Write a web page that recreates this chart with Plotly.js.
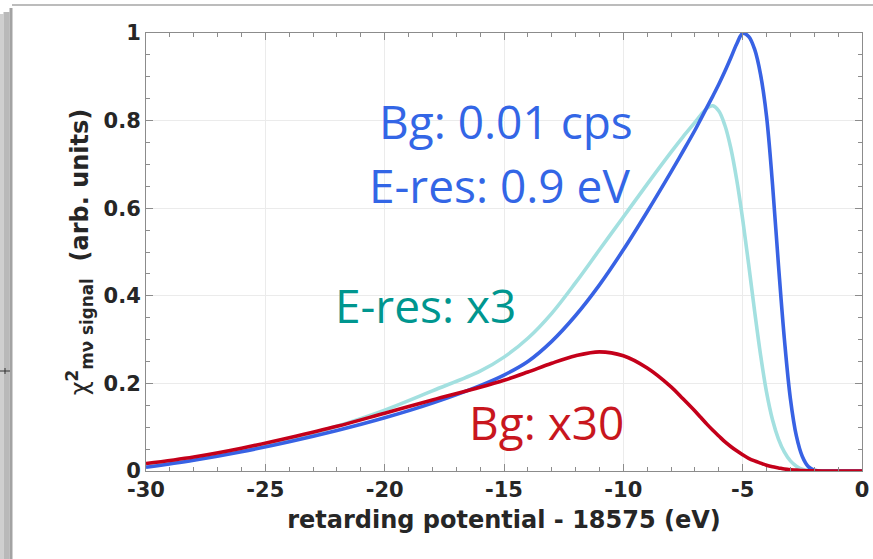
<!DOCTYPE html>
<html>
<head>
<meta charset="utf-8">
<script src="https://cdn.plot.ly/plotly-3.0.1.min.js"></script>
<style>html,body{margin:0;padding:0;background:#fff;}#chart{width:873px;height:559px;}</style>
</head>
<body>
<div id="chart"></div>
<script>
// retarding potential - 18575 (eV)
const energy = [-30, -28, -26, -24, -22, -20, -18, -16, -15, -14, -13, -12, -11, -10, -9, -8, -7.5, -7, -6.75, -6.5, -6.25, -6, -5.75, -5.5, -5.25, -5, -4.75, -4.5, -4.25, -4, -3.75, -3.5, -3.25, -3, -2.75, -2.5, -2.25, -2, -1.5, -1, 0];

// Bg: 0.01 cps, E-res: 0.9 eV
const signalBase = [0.0085, 0.0245, 0.044, 0.0668, 0.0925, 0.1215, 0.155, 0.195, 0.219, 0.25, 0.296, 0.355, 0.425, 0.505, 0.592, 0.683, 0.73, 0.778, 0.804, 0.83, 0.856, 0.883, 0.912, 0.943, 0.975, 0.999, 0.992, 0.963, 0.905, 0.81, 0.655, 0.47, 0.3, 0.165, 0.08, 0.033, 0.01, 0.002, 0, 0, 0];

// E-res: x3
const signalEres3 = [0.011, 0.026, 0.046, 0.071, 0.102, 0.139, 0.183, 0.228, 0.26, 0.303, 0.36, 0.43, 0.505, 0.58, 0.655, 0.728, 0.763, 0.796, 0.813, 0.828, 0.834, 0.822, 0.79, 0.738, 0.665, 0.575, 0.472, 0.365, 0.265, 0.18, 0.117, 0.073, 0.043, 0.023, 0.011, 0.004, 0.001, 0, 0, 0, 0];

// Bg: x30
const signalBg30 = [0.017, 0.032, 0.052, 0.076, 0.102, 0.132, 0.162, 0.191, 0.207, 0.226, 0.246, 0.263, 0.272, 0.263, 0.235, 0.192, 0.165, 0.137, 0.122, 0.107, 0.093, 0.08, 0.067, 0.056, 0.046, 0.037, 0.029, 0.023, 0.018, 0.013, 0.0095, 0.007, 0.0045, 0.003, 0.002, 0.001, 0.0005, 0.0002, 0, 0, 0];

const xTickVals = [-30, -25, -20, -15, -10, -5, 0];
const xTickText = ['-30', '-25', '-20', '-15', '-10', '-5', '0'];
const yTickVals = [0, 0.2, 0.4, 0.6, 0.8, 1];
const yTickText = ['0', '0.2', '0.4', '0.6', '0.8', '1'];

const labels = ['Bg: 0.01 cps', 'E-res: 0.9 eV', 'E-res: x3', 'Bg: x30'];
const labelX = [-14.9, -15.2, -18.27, -13.2];
const labelY = [0.80, 0.652, 0.378, 0.113];
const labelColors = ['#3366e6', '#3366e6', '#00968f', '#c8161e'];

const traces = [
  {x: energy, y: signalEres3, mode: 'lines', line: {color: '#a3e0e0', width: 3.6, shape: 'spline', smoothing: 1}},
  {x: energy, y: signalBase, mode: 'lines', line: {color: '#3862e4', width: 3.6, shape: 'spline', smoothing: 1}},
  {x: energy, y: signalBg30, mode: 'lines', line: {color: '#c4001a', width: 3.6, shape: 'spline', smoothing: 1}}
];

const tickFont = {family: 'DejaVu Sans', size: 21, color: '#262626', weight: 'bold'};
const axisCommon = {
  showline: true, linecolor: '#8c8c8c', linewidth: 1, mirror: 'ticks',
  ticks: 'inside', ticklen: 7, tickcolor: '#8c8c8c', tickwidth: 1,
  showgrid: true, gridcolor: '#ebebeb', gridwidth: 1, zeroline: false,
  tickfont: tickFont, automargin: false
};

const px = v => (v - 146) / 716;
const py = v => (471 - v) / 438;

const shapes = [
  {type: 'rect', xref: 'paper', yref: 'paper', x0: px(0), x1: px(3.5), y0: py(559), y1: py(14), fillcolor: '#cfcfcf', line: {width: 0}},
  {type: 'rect', xref: 'paper', yref: 'paper', x0: px(3.5), x1: px(9.5), y0: py(559), y1: py(12), fillcolor: '#b9b9b9', line: {width: 0}},
  {type: 'rect', xref: 'paper', yref: 'paper', x0: px(9.5), x1: px(12.5), y0: py(559), y1: py(8), fillcolor: '#a3a3a3', line: {width: 0}},
  {type: 'line', xref: 'paper', yref: 'paper', x0: px(12), x1: px(873), y0: py(5), y1: py(5), line: {color: '#bcbcbc', width: 2}},
  {type: 'line', xref: 'paper', yref: 'paper', x0: px(0), x1: px(10), y0: py(371), y1: py(371), line: {color: '#333', width: 1}},
  {type: 'line', xref: 'paper', yref: 'paper', x0: px(5), x1: px(5), y0: py(368), y1: py(374), line: {color: '#333', width: 1}}
];

const annotations = labels.map((t, i) => ({
  x: labelX[i], y: labelY[i], xref: 'x', yref: 'y', text: t, showarrow: false,
  xanchor: 'center', yanchor: 'middle',
  font: {family: 'Open Sans', size: 46, color: labelColors[i]}
}));

const layout = {
  width: 873, height: 559,
  margin: {l: 146, r: 11, t: 33, b: 88},
  paper_bgcolor: '#ffffff', plot_bgcolor: '#ffffff',
  showlegend: false,
  xaxis: Object.assign({}, axisCommon, {
    range: [-30, 0], tickvals: xTickVals, ticktext: xTickText,
    minor: {dtick: 1, ticks: 'inside', ticklen: 4, tickcolor: '#8c8c8c', showgrid: false},
    title: {text: 'retarding potential - 18575 (eV)', standoff: 9,
      font: {family: 'DejaVu Sans', size: 24, color: '#262626', weight: 'bold'}}
  }),
  yaxis: Object.assign({}, axisCommon, {
    range: [0, 1], tickvals: yTickVals, ticktext: yTickText,
    minor: {dtick: 0.05, ticks: 'inside', ticklen: 4, tickcolor: '#8c8c8c', showgrid: false},
    title: {text: '<span style="font-weight:normal">χ</span><sup>2</sup><sub>mν signal</sub> \u00a0(arb. units)', standoff: 8,
      font: {family: 'DejaVu Sans', size: 24, color: '#262626', weight: 'bold'}}
  }),
  shapes: shapes,
  annotations: annotations
};

Plotly.newPlot('chart', traces, layout, {displayModeBar: false, staticPlot: true});
</script>
</body>
</html>
